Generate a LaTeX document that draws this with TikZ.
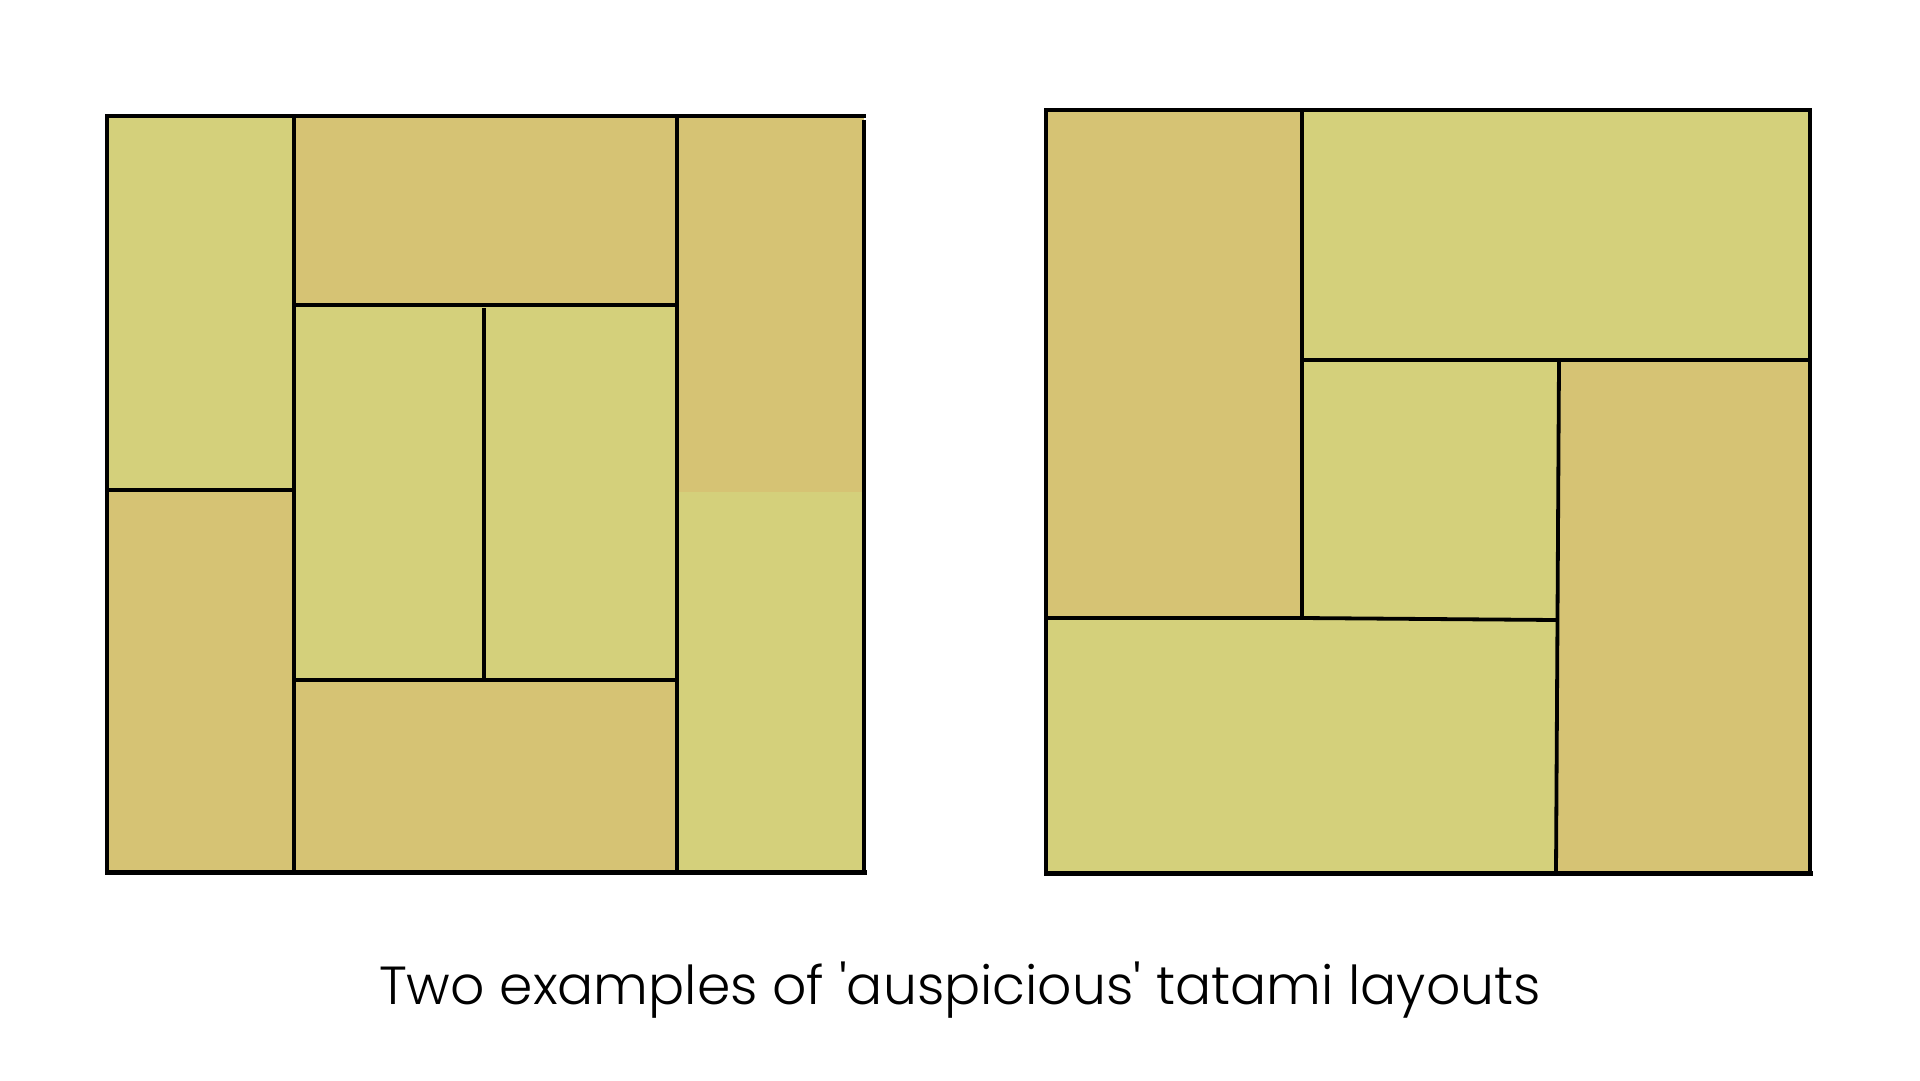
\documentclass[tikz,border=0pt]{standalone}
\usepackage{fontspec}
\setmainfont{Poppins}[UprightFont=* Light]
\definecolor{tlight}{HTML}{D4D07B}
\definecolor{tdark}{HTML}{D6C374}
\tikzset{
  mat/.style={line width=3.4pt, draw=black, line join=miter},
  edge/.style={line width=3.8pt, line cap=rect},
  base/.style={line width=5pt, line cap=rect}
}
\begin{document}
\begin{tikzpicture}[x=1pt,y=-1pt]
\useasboundingbox[fill=white] (0,0) rectangle (1920,1080);
% ---------- left layout ----------
\fill[tlight] (107,116) rectangle (294,490);
\fill[tdark]  (107,490) rectangle (294,872);
\fill[tdark]  (294,116) rectangle (677,305);
\fill[tlight] (294,305) rectangle (677,680);
\fill[tdark]  (294,680) rectangle (677,872);
\fill[tdark]  (677,116) rectangle (864,492);
\fill[tlight] (677,492) rectangle (864,872);
\draw[edge] (107,116) -- (864,116);
\draw[edge] (107,116) -- (107,872);
\draw[edge] (864,122) -- (864,872);
\draw[edge] (294,116) -- (294,872);
\draw[edge] (677,116) -- (677,872);
\draw[edge] (107,490) -- (294,490);
\draw[edge] (294,305) -- (677,305);
\draw[edge] (484,310) -- (484,680);
\draw[edge] (294,680) -- (482,680);
\draw[edge] (487,680) -- (677,680);
\draw[base] (107,872) -- (864,872);
% ---------- right layout ----------
\fill[tdark]  (1046,110) rectangle (1302,618);
\fill[tlight] (1302,110) rectangle (1810,360);
\fill[tlight] (1302,360) rectangle (1558,619);
\fill[tdark]  (1558,360) -- (1810,360) -- (1810,872) -- (1556,872) -- cycle;
\fill[tlight] (1046,618) -- (1302,618) -- (1557,620) -- (1556,872) -- (1046,872) -- cycle;
\draw[edge] (1046,110) -- (1810,110);
\draw[edge] (1046,110) -- (1046,872);
\draw[edge] (1810,110) -- (1810,872);
\draw[edge] (1302,110) -- (1302,618);
\draw[edge] (1302,360) -- (1810,360);
\draw[edge] (1559,362) -- (1556,872);
\draw[edge] (1046,618) -- (1302,618) -- (1557,620);
\draw[base] (1046,873) -- (1810,873);
% ---------- caption ----------
\node[font=\fontsize{53.6}{64}\selectfont, anchor=base] (cap) at (960,1004) {Two examples of \textquotesingle auspicious\textquotesingle\ tatami layouts};
\end{tikzpicture}
\end{document}
